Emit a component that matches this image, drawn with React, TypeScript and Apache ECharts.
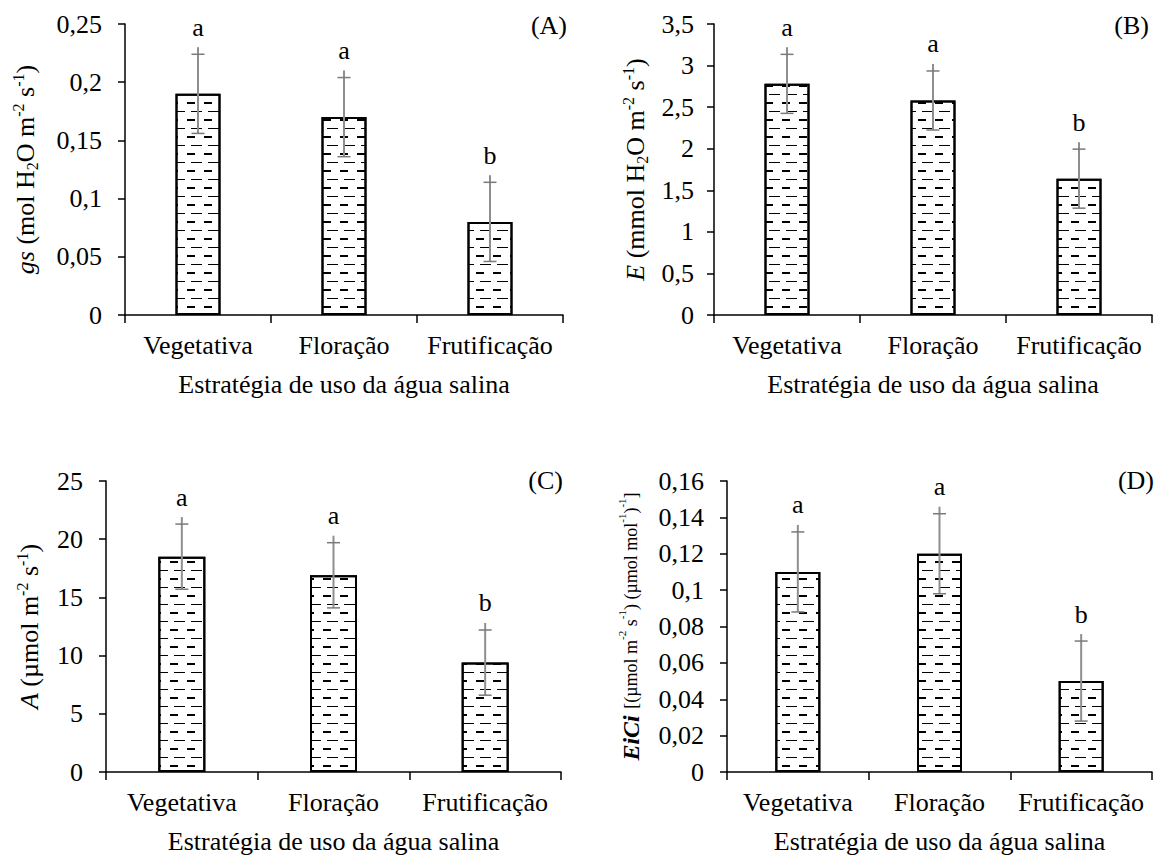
import React, { useEffect, useRef } from "react";
import * as echarts from "echarts";

const categories = ["Vegetativa", "Floração", "Frutificação"];

const gsMean = [0.19, 0.17, 0.08];
const gsErr = [0.034, 0.034, 0.034];
const gsLetters = ["a", "a", "b"];

const eMean = [2.78, 2.58, 1.64];
const eErr = [0.355, 0.355, 0.355];
const eLetters = ["a", "a", "b"];

const aMean = [18.5, 16.9, 9.4];
const aErr = [2.8, 2.8, 2.8];
const aLetters = ["a", "a", "b"];

const eicMean = [0.11, 0.12, 0.05];
const eicErr = [0.022, 0.022, 0.022];
const eicLetters = ["a", "a", "b"];

const xTitle = "Estratégia de uso da água salina";
const panelTags = ["(A)", "(B)", "(C)", "(D)"];

const FONT = "Liberation Serif";

export default function App() {
  const ref = useRef<HTMLDivElement>(null);

  useEffect(() => {
    if (!ref.current) return;
    const chart = echarts.init(ref.current, null, { renderer: "svg" });

    const panels = [
      {
        mean: gsMean, err: gsErr, letters: gsLetters,
        min: 0, max: 0.25, interval: 0.05,
        grid: { left: 125, top: 24, width: 438, height: 291 },
        name: "{i|gs} (mol H{sub|2}O m{sup|-2} s{sup|-1})",
        nameGap: 85, labelMargin: 23, barWidth: 45,
        tag: { x: 567, y: 25 },
      },
      {
        mean: eMean, err: eErr, letters: eLetters,
        min: 0, max: 3.5, interval: 0.5,
        grid: { left: 714, top: 24, width: 438, height: 291 },
        name: "{i|E} (mmol H{sub|2}O m{sup|-2} s{sup|-1})",
        nameGap: 64, labelMargin: 20, barWidth: 45,
        tag: { x: 1149, y: 25 },
      },
      {
        mean: aMean, err: aErr, letters: aLetters,
        min: 0, max: 25, interval: 5,
        grid: { left: 106, top: 481, width: 455, height: 291 },
        name: "{i|A} (µmol m{sup|-2} s{sup|-1})",
        nameGap: 62, labelMargin: 23, barWidth: 47,
        tag: { x: 563, y: 480 },
      },
      {
        mean: eicMean, err: eicErr, letters: eicLetters,
        min: 0, max: 0.16, interval: 0.02,
        grid: { left: 727, top: 481, width: 425, height: 291 },
        name:
          "{bi|EiCi} {s|[(µmol m}{ss|-2}{s| s}{ss|-1}{s|) (µmol mol}{ss|-1}{s|)}{ss|-1}{s|]}",
        nameGap: 81, labelMargin: 23, barWidth: 45,
        tag: { x: 1154, y: 480 },
      },
    ];

    const fmt = (v: number) => String(+v.toFixed(6)).replace(".", ",");

    const decal = {
      symbol: "rect",
      symbolSize: 1,
      color: "#000",
      dashArrayY: [2, 7, 1, 7],
      dashArrayX: [
        [8, 9],
        [0, 4, 11, 2],
      ],
      rotation: 0,
    };

    const option: any = {
      animation: false,
      backgroundColor: "#fff",
      textStyle: { fontFamily: FONT, color: "#000" },
      grid: panels.map((p) => ({ ...p.grid, containLabel: false })),
      xAxis: panels.map((p, k) => ({
        type: "category",
        gridIndex: k,
        data: categories,
        axisLine: { show: true, lineStyle: { color: "#000", width: 1.5 } },
        axisTick: { show: true, alignWithLabel: false, length: 8, lineStyle: { color: "#000", width: 1.5 } },
        axisLabel: { interval: 0, margin: 17, fontSize: 26, fontFamily: FONT, color: "#000" },
        name: xTitle,
        nameLocation: "middle",
        nameGap: 56,
        nameTextStyle: { fontSize: 26, fontFamily: FONT, color: "#000" },
      })),
      yAxis: panels.map((p, k) => ({
        type: "value",
        gridIndex: k,
        min: p.min,
        max: p.max,
        interval: p.interval,
        splitLine: { show: false },
        axisLine: { show: true, lineStyle: { color: "#000", width: 1.5 } },
        axisTick: { show: true, length: 7, lineStyle: { color: "#000", width: 1.5 } },
        axisLabel: { margin: p.labelMargin, fontSize: 26, fontFamily: FONT, color: "#000", formatter: fmt },
        name: p.name,
        nameLocation: "middle",
        nameRotate: 90,
        nameGap: p.nameGap,
        nameTextStyle: {
          fontSize: 26,
          lineHeight: 30,
          fontFamily: FONT,
          color: "#000",
          rich: {
            i: { fontSize: 26, fontStyle: "italic", fontFamily: FONT, lineHeight: 30 },
            bi: { fontSize: 24, fontStyle: "italic", fontWeight: "bold", fontFamily: FONT, lineHeight: 30 },
            sup: { fontSize: 16, fontFamily: FONT, verticalAlign: "top", lineHeight: 18 },
            sub: { fontSize: 16, fontFamily: FONT, verticalAlign: "bottom", lineHeight: 14 },
            s: { fontSize: 18, fontFamily: FONT },
            ss: { fontSize: 11, fontFamily: FONT, verticalAlign: "top", lineHeight: 17 },
          },
        },
      })),
      series: [
        ...panels.map((p, k) => ({
          type: "bar",
          xAxisIndex: k,
          yAxisIndex: k,
          barWidth: p.barWidth,
          data: p.mean,
          itemStyle: { color: "#fff", borderColor: "#000", borderWidth: 2, decal },
          z: 2,
        })),
        ...panels.map((p, k) => ({
          type: "custom",
          xAxisIndex: k,
          yAxisIndex: k,
          z: 5,
          clip: false,
          data: p.mean.map((m, i) => [i, m, p.err[i]]),
          encode: { x: 0, y: 1 },
          renderItem: (params: any, api: any) => {
            const i = api.value(0);
            const m = api.value(1);
            const e = api.value(2);
            const top = api.coord([i, m + e]);
            const bot = api.coord([i, m - e]);
            const x = top[0];
            return {
              type: "group",
              children: [
                { type: "line", shape: { x1: x, y1: top[1] - 7, x2: x, y2: bot[1] }, style: { stroke: "#8e8e8e", lineWidth: 2 } },
                { type: "line", shape: { x1: x - 6.5, y1: top[1], x2: x + 6.5, y2: top[1] }, style: { stroke: "#7a7a7a", lineWidth: 1.5 } },
                { type: "line", shape: { x1: x - 6.5, y1: bot[1], x2: x + 6.5, y2: bot[1] }, style: { stroke: "#7a7a7a", lineWidth: 1.5 } },
                {
                  type: "text",
                  style: {
                    text: p.letters[params.dataIndex],
                    x,
                    y: top[1] - 14,
                    align: "center",
                    verticalAlign: "bottom",
                    fontSize: 26,
                    fontFamily: FONT,
                    fill: "#000",
                  },
                },
              ],
            };
          },
        })),
      ],
      graphic: panels.map((p, k) => ({
        type: "text",
        x: p.tag.x,
        y: p.tag.y,
        style: {
          text: panelTags[k],
          align: "right",
          verticalAlign: "middle",
          fontSize: 26,
          fontFamily: FONT,
          fill: "#000",
        },
      })),
    };

    chart.setOption(option);
    return () => chart.dispose();
  }, []);

  return (
    <div
      ref={ref}
      style={{ position: "absolute", left: 0, top: 0, width: 1175, height: 855, background: "#fff" }}
    />
  );
}
